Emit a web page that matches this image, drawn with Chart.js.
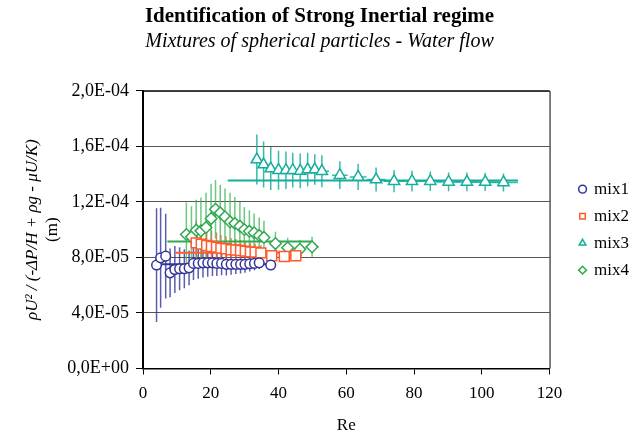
<!DOCTYPE html>
<html>
<head>
<meta charset="utf-8">
<script src="https://cdn.jsdelivr.net/npm/chart.js@4"></script>
<style>
html,body{margin:0;padding:0;background:#fff;}
#wrap{width:643px;height:434px;}
</style>
</head>
<body>
<div id="wrap"><canvas id="c" width="643" height="434"></canvas></div>
<script>
// ---- data (values in units of 1E-05 m) ----
const SCALE = 1e-5;
const yTickLabels = ['0,0E+00','4,0E-05','8,0E-05','1,2E-04','1,6E-04','2,0E-04'];
const seriesNames = ['mix1','mix2','mix3','mix4'];
const yTitleMain = 'ρU² / (-ΔP/H + ρg - μU/K)';
const yTitleUnit = '(m)';

const mix1Re  = [4.0, 5.2, 6.7, 8.0, 9.4, 10.8, 12.2, 13.6, 14.9, 16.3, 17.7, 19.1, 20.5, 21.8, 23.2, 24.6, 26.0, 27.4, 28.8, 30.1, 31.5, 32.9, 34.3, 37.7];
const mix1Val = [7.45, 7.97, 8.09, 6.89, 7.13, 7.18, 7.18, 7.25, 7.57, 7.57, 7.61, 7.61, 7.61, 7.57, 7.57, 7.50, 7.50, 7.50, 7.50, 7.50, 7.54, 7.57, 7.61, 7.45];
const mix1Err = [4.1, 3.6, 3.05, 1.75, 1.7, 1.55, 1.4, 1.25, 1.2, 1.1, 1.05, 1.0, 0.95, 0.9, 0.85, 0.8, 0.75, 0.7, 0.65, 0.6, 0.55, 0.5, 0.45, 0.35];
const mix1ReErr = [0.15, 0.2, 0.25, 0.3, 0.35, 0.4, 0.45, 0.5, 0.6, 0.65, 0.7, 0.75, 0.8, 0.85, 0.9, 0.95, 1.0, 1.1, 1.15, 1.2, 1.25, 1.3, 1.35, 1.5];
const mix1Fit = {re: [3.9, 37.9], val: 7.50};

const mix2Re  = [15.7, 17.2, 18.8, 20.2, 21.7, 23.0, 24.5, 26.0, 27.4, 28.8, 30.2, 31.7, 33.1, 34.8, 38.0, 41.7, 45.1];
const mix2Val = [9.05, 8.96, 8.86, 8.79, 8.74, 8.67, 8.62, 8.55, 8.53, 8.50, 8.45, 8.40, 8.38, 8.33, 8.12, 8.07, 8.12];
const mix2Err = [1.6, 1.4, 1.27, 1.15, 1.05, 0.95, 0.9, 0.85, 0.8, 0.75, 0.7, 0.65, 0.6, 0.55, 0.4, 0.4, 0.4];
const mix2ReErr = [0.6, 0.7, 0.75, 0.8, 0.9, 0.9, 1.0, 1.0, 1.1, 1.15, 1.2, 1.25, 1.3, 1.4, 1.5, 1.65, 1.8];
const mix2Fit = {re: [9.6, 46.0], val: 8.33};

const mix3Re  = [33.6, 35.6, 37.7, 40.0, 42.2, 44.2, 46.4, 48.6, 50.7, 52.8, 58.1, 63.5, 68.8, 74.1, 79.4, 84.8, 90.2, 95.6, 101.0, 106.4];
const mix3Val = [15.05, 14.69, 14.40, 14.28, 14.28, 14.28, 14.23, 14.33, 14.33, 14.21, 13.92, 13.80, 13.61, 13.49, 13.49, 13.49, 13.44, 13.44, 13.44, 13.40];
const mix3Err = [1.8, 1.65, 1.55, 1.4, 1.35, 1.25, 1.25, 1.2, 1.1, 1.15, 1.0, 0.95, 0.86, 0.8, 0.75, 0.7, 0.68, 0.67, 0.65, 0.65];
const mix3ReErr = [1.3, 1.4, 1.5, 1.6, 1.7, 1.8, 1.85, 1.95, 2.0, 2.1, 2.3, 2.5, 2.75, 2.95, 3.2, 3.4, 3.6, 3.8, 4.0, 4.25];
const mix3Fit = {re: [25.0, 110.7], val: 13.54};

const mix4Re  = [12.8, 14.3, 15.7, 17.1, 18.6, 20.1, 21.4, 22.8, 24.2, 25.7, 27.1, 28.6, 29.9, 31.4, 32.8, 34.3, 35.7, 39.1, 42.7, 46.3, 49.9];
const mix4Val = [9.65, 9.48, 9.96, 9.91, 10.16, 10.8, 11.47, 11.21, 10.92, 10.56, 10.45, 10.25, 10.01, 9.89, 9.77, 9.58, 9.44, 9.0, 8.69, 8.58, 8.76];
const mix4Err = [2.3, 2.2, 2.2, 2.4, 2.5, 2.5, 2.1, 2.0, 2.05, 2.1, 1.9, 1.75, 1.6, 1.5, 1.4, 1.3, 1.2, 0.85, 0.72, 0.67, 0.72];
const mix4ReErr = [0.5, 0.55, 0.6, 0.7, 0.75, 0.8, 0.85, 0.9, 0.95, 1.0, 1.1, 1.15, 1.2, 1.25, 1.3, 1.35, 1.45, 1.55, 1.7, 1.85, 2.0];
const mix4Fit = {re: [7.2, 50.0], val: 9.15};

// ---- styling ----
const colors = ['#333399', '#FF5A2D', '#14AE9E', '#33A852'];
const barColors = ['rgba(51,51,153,0.8)', 'rgba(255,90,45,0.8)', 'rgba(20,174,158,0.85)', 'rgba(60,180,85,0.75)'];
const styles = ['circle', 'rect', 'triangle', 'rectRot'];
const radii = [4.8, 7, 6.5, 5.8];

const seriesRe = [mix1Re, mix2Re, mix3Re, mix4Re];
const seriesVal = [mix1Val, mix2Val, mix3Val, mix4Val];
const seriesErr = [mix1Err, mix2Err, mix3Err, mix4Err];
const seriesReErr = [mix1ReErr, mix2ReErr, mix3ReErr, mix4ReErr];
const fits = [mix1Fit, mix2Fit, mix3Fit, mix4Fit];

const datasets = [];
seriesNames.forEach((name, k) => {
  datasets.push({
    label: name,
    data: seriesRe[k].map((r, i) => ({x: r, y: seriesVal[k][i] * SCALE})),
    showLine: false,
    pointStyle: styles[k],
    pointRadius: radii[k],
    pointHoverRadius: radii[k],
    borderColor: colors[k],
    backgroundColor: '#ffffff',
    borderWidth: 1.5,
    pointBorderWidth: 1.5,
    order: 1,
    errY: seriesErr[k],
    errX: seriesReErr[k],
    barColor: barColors[k]
  });
});
seriesNames.forEach((name, k) => {
  datasets.push({
    label: name + ' fit',
    data: fits[k].re.map(r => ({x: r, y: fits[k].val * SCALE})),
    showLine: true,
    pointRadius: 0,
    borderColor: colors[k],
    borderWidth: 2,
    order: 5
  });
});

const errorBars = {
  id: 'errorBars',
  beforeDatasetsDraw(chart) {
    const {ctx, chartArea, scales: {x, y}} = chart;
    ctx.save();
    ctx.beginPath();
    ctx.rect(chartArea.left, chartArea.top, chartArea.width, chartArea.height);
    ctx.clip();
    chart.data.datasets.forEach(ds => {
      if (!ds.errY) return;
      ctx.strokeStyle = ds.barColor;
      ctx.lineWidth = 1.5;
      ds.data.forEach((p, i) => {
        const px = x.getPixelForValue(p.x);
        const py = y.getPixelForValue(p.y);
        const e = ds.errY[i] * SCALE;
        const y1 = y.getPixelForValue(p.y + e);
        const y2 = y.getPixelForValue(p.y - e);
        ctx.beginPath();
        ctx.moveTo(px, y1); ctx.lineTo(px, y2);
        const xe = ds.errX[i];
        const x1 = x.getPixelForValue(p.x - xe);
        const x2 = x.getPixelForValue(p.x + xe);
        ctx.moveTo(x1, py); ctx.lineTo(x2, py);
        ctx.stroke();
      });
    });
    ctx.restore();
  }
};

const frame = {
  id: 'frame',
  afterDraw(chart) {
    const {ctx, chartArea: a} = chart;
    ctx.save();
    ctx.strokeStyle = '#000';
    ctx.lineWidth = 1;
    ctx.beginPath();
    ctx.moveTo(a.left, a.top + 0.5);
    ctx.lineTo(a.right + 0.5, a.top + 0.5);
    ctx.lineTo(a.right + 0.5, a.bottom);
    ctx.stroke();
    // upright unit line of the y-axis title
    const ys = chart.scales.y;
    ctx.translate(ys.left + 22 + 10.2 + 20.4, (a.top + a.bottom) / 2);
    ctx.rotate(-Math.PI / 2);
    ctx.fillStyle = '#000';
    ctx.font = "17px 'Liberation Serif', 'Times New Roman', serif";
    ctx.textAlign = 'center';
    ctx.textBaseline = 'middle';
    ctx.fillText(yTitleUnit, 0, 0);
    ctx.restore();
  }
};

Chart.defaults.font.family = "'Liberation Serif', 'Times New Roman', serif";
Chart.defaults.color = '#000';

new Chart(document.getElementById('c'), {
  type: 'scatter',
  data: {datasets},
  plugins: [errorBars, frame],
  options: {
    responsive: false,
    animation: false,
    events: [],
    layout: {padding: {left: 0, right: 4, top: 0, bottom: 0}},
    plugins: {
      title: {
        display: true,
        text: 'Identification of Strong Inertial regime',
        font: {size: 21, weight: 'bold'},
        color: '#000',
        padding: {top: 4, bottom: 0}
      },
      subtitle: {
        display: true,
        text: 'Mixtures of spherical particles - Water flow',
        font: {size: 20, style: 'italic'},
        color: '#000',
        padding: {top: 1, bottom: 36.6}
      },
      legend: {
        position: 'right',
        align: 'center',
        fullSize: false,
        labels: {
          usePointStyle: true,
          boxHeight: 5.5,
          boxWidth: 6,
          padding: 10,
          font: {size: 17},
          color: '#000',
          filter: item => item.datasetIndex < 4
        }
      },
      tooltip: {enabled: false}
    },
    scales: {
      x: {
        type: 'linear',
        position: 'bottom',
        min: 0, max: 120,
        ticks: {stepSize: 20, font: {size: 17}, color: '#000', padding: 9},
        grid: {drawOnChartArea: false, drawTicks: true, tickLength: 6, color: '#000'},
        border: {color: '#000', width: 1.5},
        title: {display: true, text: 'Re', font: {size: 17, lineHeight: 1.0}, color: '#000', padding: {top: 0, bottom: 0}},
        afterFit(s) { s.height = 65.5; }
      },
      y: {
        type: 'linear',
        position: 'left',
        min: 0, max: 2e-4,
        ticks: {
          count: 6,
          font: {size: 18},
          color: '#000',
          padding: 7,
          callback: (v, i) => yTickLabels[i]
        },
        grid: {color: '#555', lineWidth: 1, tickLength: 7, tickColor: '#000'},
        border: {color: '#000', width: 2},
        title: {
          display: true,
          text: yTitleMain,
          font: {size: 17, style: 'italic'},
          color: '#000',
          padding: {top: 22, bottom: 0}
        },
        afterFit(s) { s.width = 143; }
      },
      y2: {
        type: 'linear',
        position: 'right',
        display: true,
        min: 0, max: 2e-4,
        ticks: {display: false},
        grid: {display: false, drawTicks: false},
        border: {display: false},
        afterFit(s) { s.width = 20; }
      }
    }
  }
});
</script>
</body>
</html>
